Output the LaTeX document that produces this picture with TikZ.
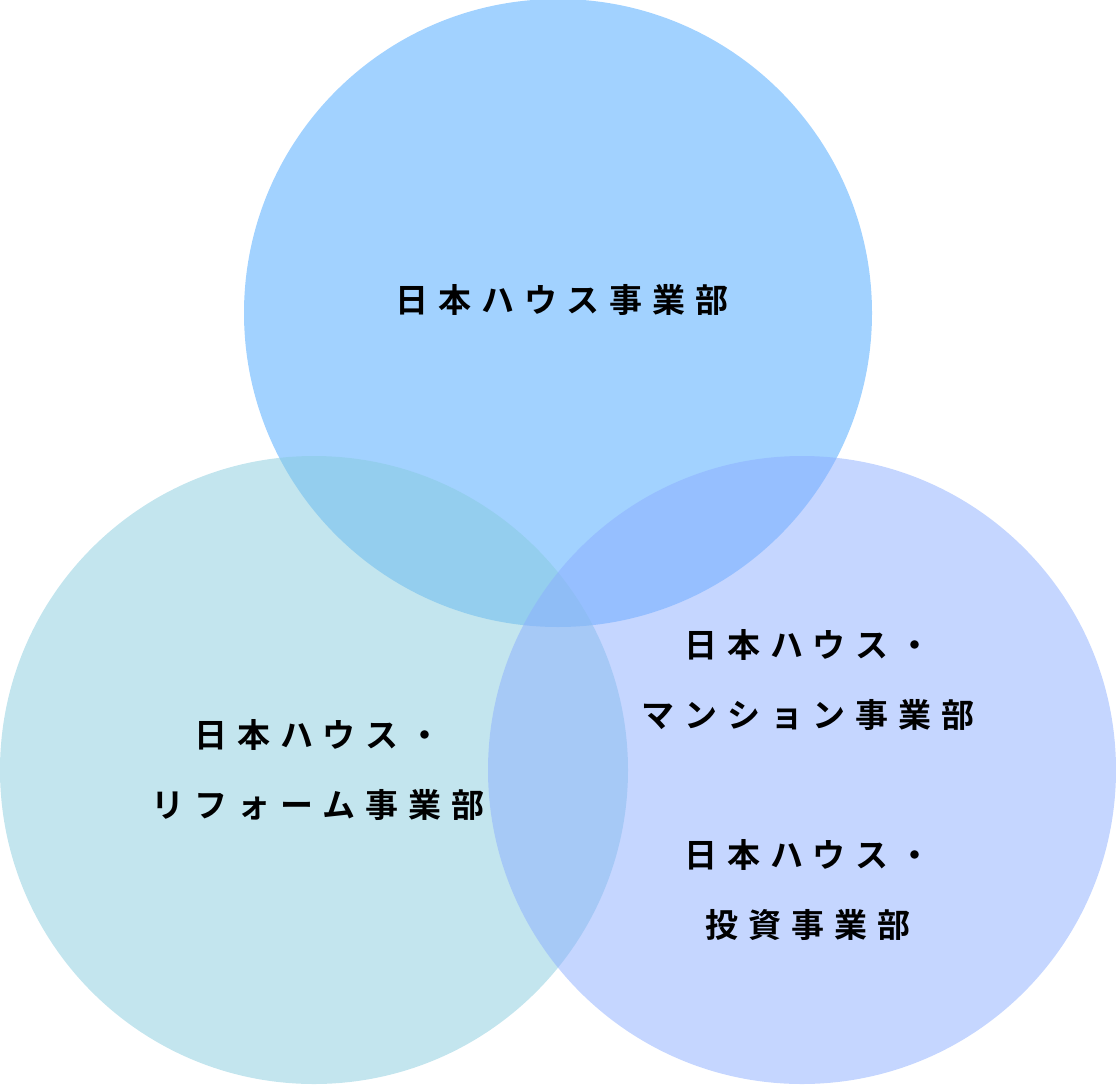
\documentclass[tikz,border=0pt]{standalone}
\usepackage{fontspec}
\newfontfamily\jp[LetterSpace=30]{Noto Sans CJK JP Bold}
\definecolor{ctop}{RGB}{69,165,255}
\definecolor{cleft}{RGB}{135,203,221}
\definecolor{cright}{RGB}{139,173,255}
\begin{document}
\begin{tikzpicture}[x=1pt,y=-1pt,
  circ/.style={fill opacity=0.5,draw=none},
  lab/.style={font=\jp\fontsize{33}{70}\selectfont,align=center,text=black}]
\useasboundingbox (0,0) rectangle (1116,1084);
\fill[circ,fill=ctop] (558,313) circle (314);
\fill[circ,fill=cleft] (314,770) circle (314);
\fill[circ,fill=cright] (802,770) circle (314);
\node[lab] (t) at (562,300) {日本ハウス事業部};
\node[lab] (l) at (318,770) {日本ハウス・\\リフォーム事業部};
\node[lab] (r1) at (808,680) {日本ハウス・\\マンション事業部};
\node[lab] (r2) at (808,890) {日本ハウス・\\投資事業部};
\end{tikzpicture}
\end{document}
